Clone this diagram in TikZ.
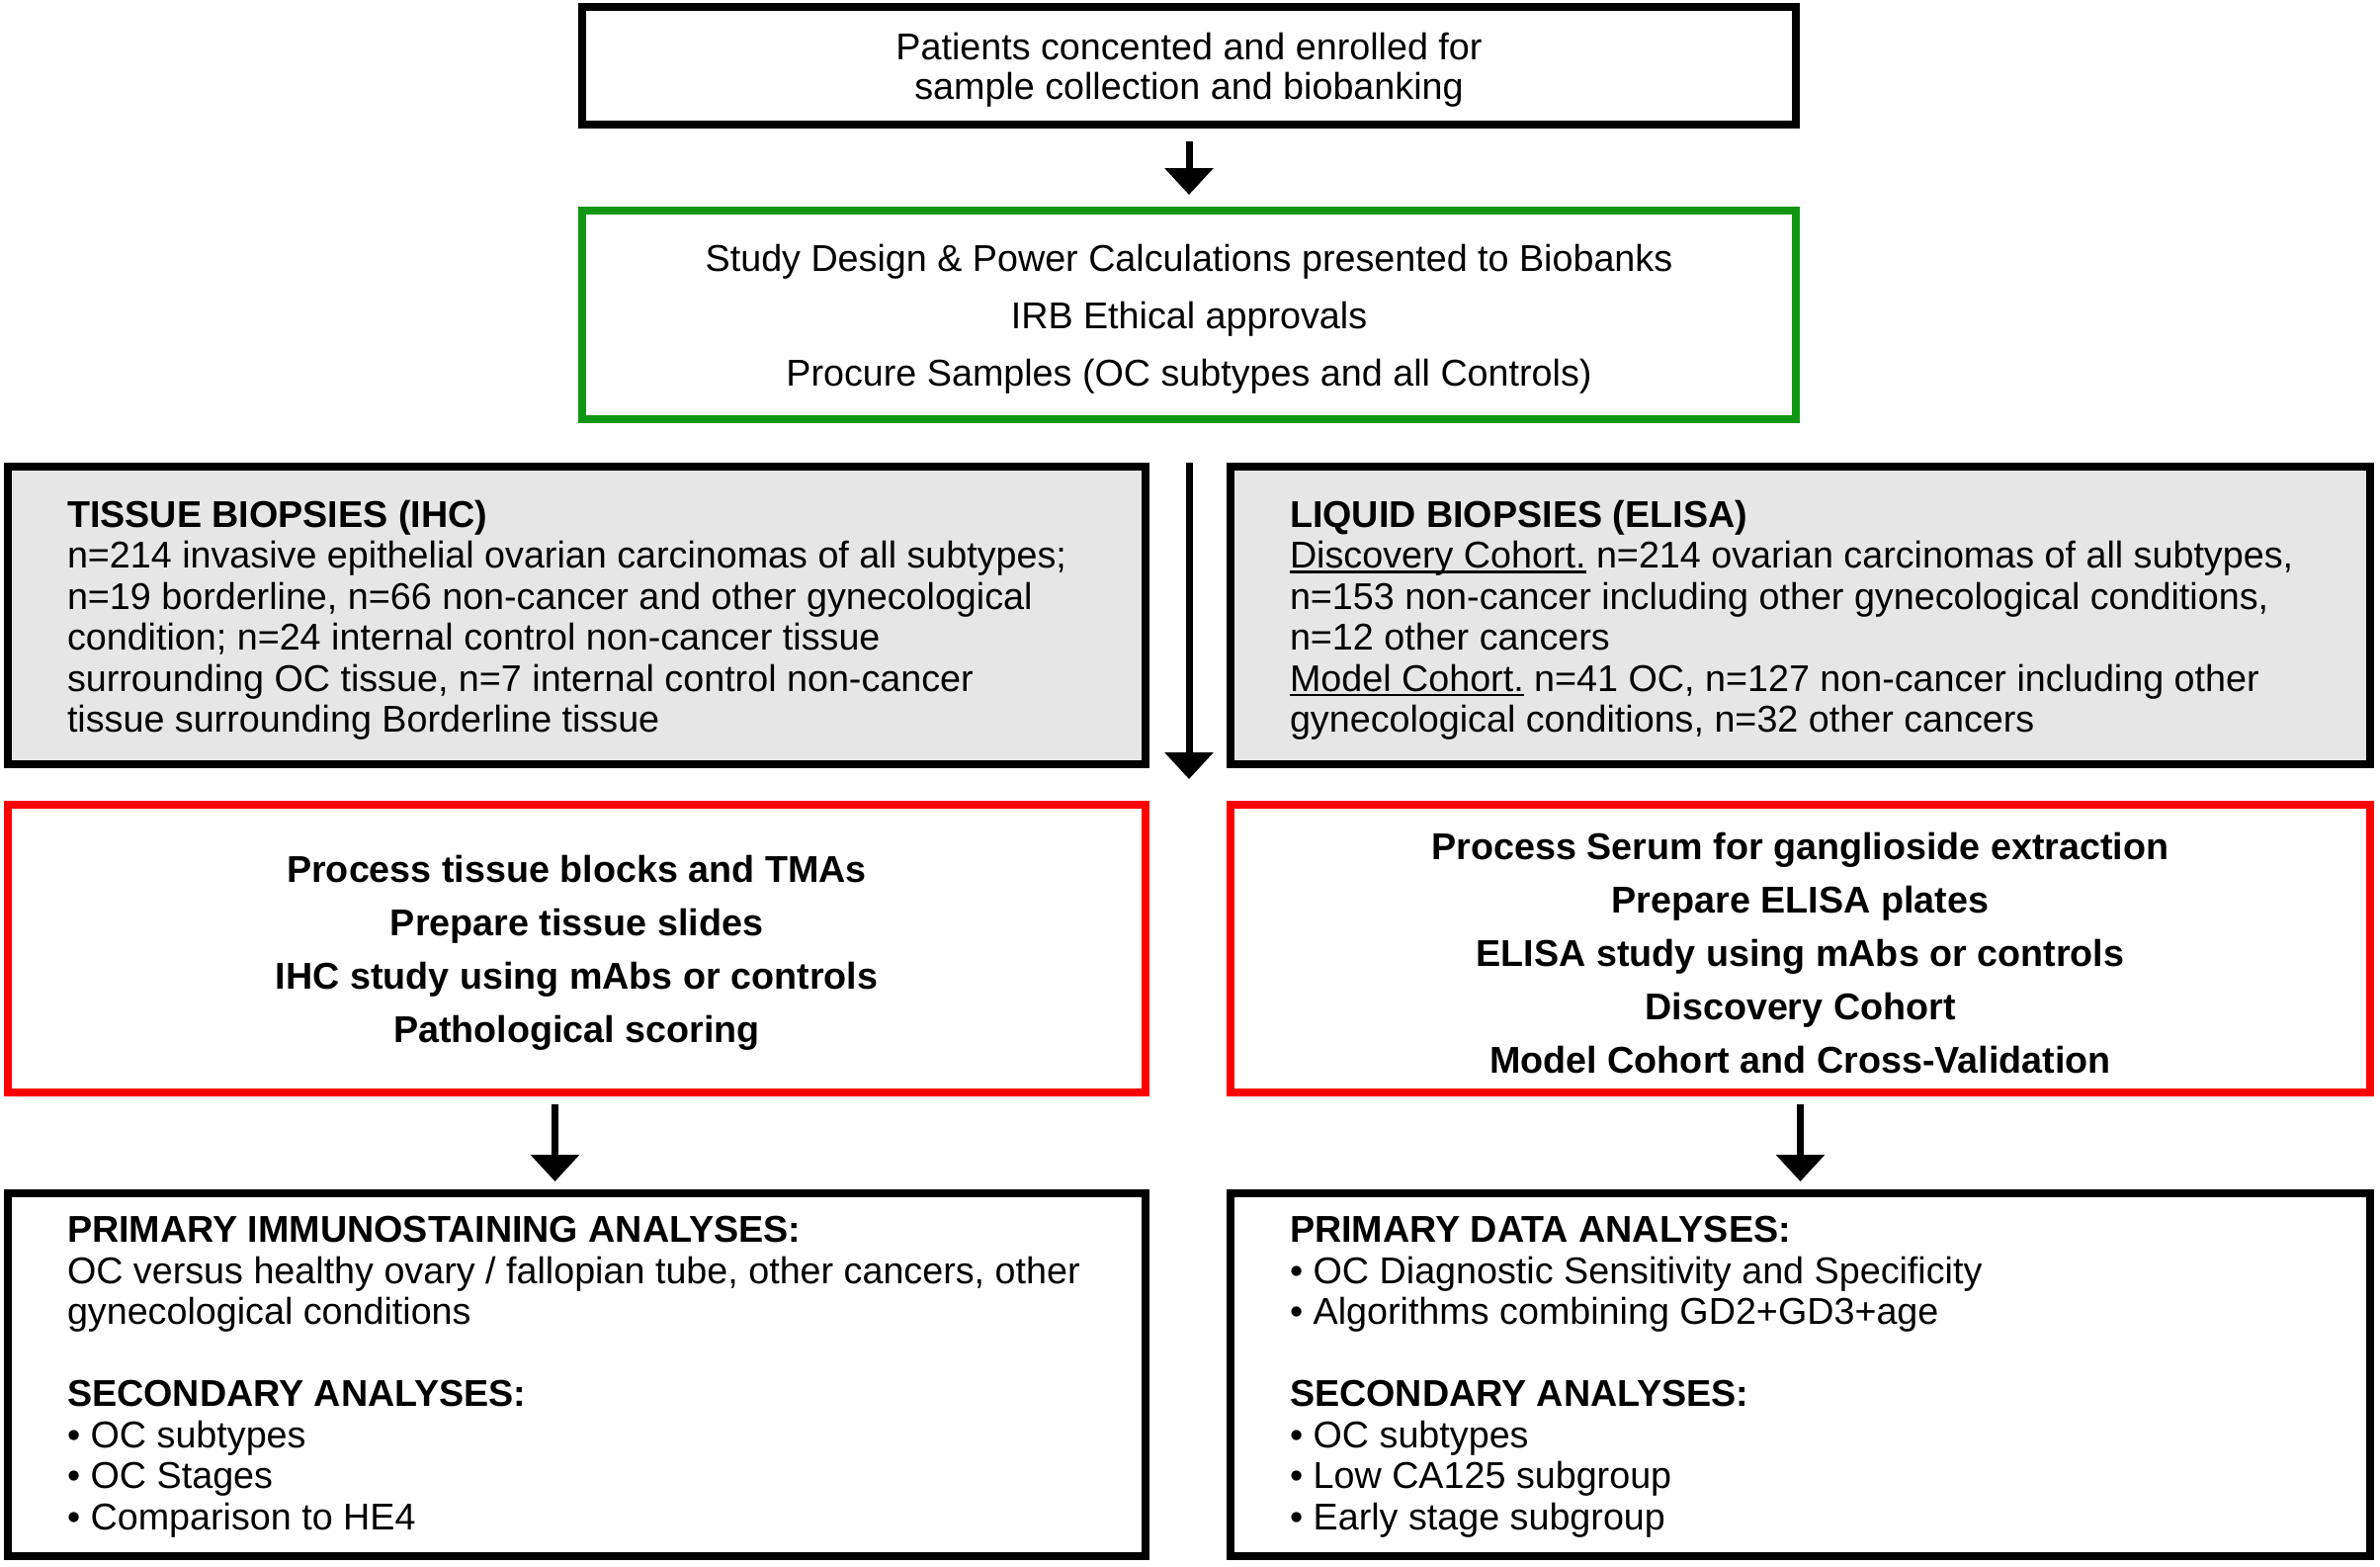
\documentclass[tikz,border=0pt]{standalone}
\usepackage{fontspec}
\setmainfont{Liberation Sans}
\usetikzlibrary{arrows.meta}
\definecolor{boxgreen}{RGB}{16,150,16}
\definecolor{boxred}{RGB}{255,0,0}
\definecolor{boxgray}{RGB}{230,230,230}
\newcommand\myul[1]{\setbox0\hbox{#1}\rlap{\rule[-5pt]{\wd0}{2.5pt}}\box0\relax}
\begin{document}
\begin{tikzpicture}[x=1pt,y=-1pt,
  box/.style={draw=black, line width=8pt, rectangle, outer sep=0pt, inner sep=0pt},
  greenbox/.style={box, draw=boxgreen},
  redbox/.style={box, draw=boxred},
  graybox/.style={box, fill=boxgray},
  body/.style={font=\fontsize{37.7pt}{41.5pt}\selectfont, align=left, inner sep=0pt, outer sep=0pt},
  ctext/.style={align=center, inner sep=0pt, outer sep=0pt},
  flow/.style={line width=7pt, -{Triangle[width=48pt,length=27pt]}}
]
\useasboundingbox (0,0) rectangle (2408,1584);

% top box
\node[box, minimum width=1228pt, minimum height=119pt] (top) at (1203,66.5) {};
\node[ctext, font=\fontsize{37.7pt}{40pt}\selectfont] (topT) at ([yshift=-4pt]top.center)
  {Patients concented and enrolled for\\sample collection and biobanking};

% green box
\node[greenbox, minimum width=1228pt, minimum height=211pt] (green) at (1203,318.5) {};
\node[ctext, font=\fontsize{37.7pt}{58pt}\selectfont] (greenT) at ([yshift=-4.5pt]green.center)
  {Study Design \& Power Calculations presented to Biobanks\\IRB Ethical approvals\\Procure Samples (OC subtypes and all Controls)};

% gray boxes
\node[graybox, minimum width=1151pt, minimum height=301pt] (tissue) at (583.5,622.5) {};
\node[body, anchor=west] (tissueT) at ([xshift=60pt,yshift=-4.5pt]tissue.west)
  {\textbf{TISSUE BIOPSIES (IHC)}\\
   n=214 invasive epithelial ovarian carcinomas of all subtypes;\\
   n=19 borderline, n=66 non-cancer and other gynecological\\
   condition; n=24 internal control non-cancer tissue\\
   surrounding OC tissue, n=7 internal control non-cancer\\
   tissue surrounding Borderline tissue};

\node[graybox, minimum width=1153pt, minimum height=301pt] (liquid) at (1821.5,622.5) {};
\node[body, anchor=west] (liquidT) at ([xshift=60pt,yshift=-4.5pt]liquid.west)
  {\textbf{LIQUID BIOPSIES (ELISA)}\\
   \myul{Discovery Cohort.} n=214 ovarian carcinomas of all subtypes,\\
   n=153 non-cancer including other gynecological conditions,\\
   n=12 other cancers\\
   \myul{Model Cohort.} n=41 OC, n=127 non-cancer including other\\
   gynecological conditions, n=32 other cancers};

% red boxes
\node[redbox, minimum width=1151pt, minimum height=291pt] (redL) at (583.5,959.5) {};
\node[ctext, font=\bfseries\fontsize{37.7pt}{54pt}\selectfont] (redLT) at ([yshift=-4.5pt]redL.center)
  {Process tissue blocks and TMAs\\Prepare tissue slides\\IHC study using mAbs or controls\\Pathological scoring};

\node[redbox, minimum width=1153pt, minimum height=291pt] (redR) at (1821.5,959.5) {};
\node[ctext, font=\bfseries\fontsize{37.7pt}{54pt}\selectfont] (redRT) at ([yshift=-4.5pt]redR.center)
  {Process Serum for ganglioside extraction\\Prepare ELISA plates\\ELISA study using mAbs or controls\\Discovery Cohort\\Model Cohort and Cross-Validation};

% bottom boxes
\node[box, minimum width=1151pt, minimum height=367pt] (botL) at (583.5,1390.5) {};
\node[body, anchor=west] (botLT) at ([xshift=60pt,yshift=-2pt]botL.west)
  {\textbf{PRIMARY IMMUNOSTAINING ANALYSES:}\\
   OC versus healthy ovary / fallopian tube, other cancers, other\\
   gynecological conditions\\[41.5pt]
   \textbf{SECONDARY ANALYSES:}\\
   • OC subtypes\\
   • OC Stages\\
   • Comparison to HE4};

\node[box, minimum width=1153pt, minimum height=367pt] (botR) at (1821.5,1390.5) {};
\node[body, anchor=west] (botRT) at ([xshift=60pt,yshift=-2pt]botR.west)
  {\textbf{PRIMARY DATA ANALYSES:}\\
   • OC Diagnostic Sensitivity and Specificity\\
   • Algorithms combining GD2+GD3+age\\[41.5pt]
   \textbf{SECONDARY ANALYSES:}\\
   • OC subtypes\\
   • Low CA125 subgroup\\
   • Early stage subgroup};

% connectors
\coordinate (ctip) at (1203,788);
\draw[flow, shorten <=17pt, shorten >=16pt] (top.south) -- (green.north);
\draw[flow, shorten <=44pt] (green.south) -- (ctip);
\draw[flow, shorten <=12pt, shorten >=12pt] ([xshift=-22pt]redL.south) -- ([xshift=-22pt]botL.north);
\draw[flow, shorten <=12pt, shorten >=12pt] (redR.south) -- (botR.north);
\end{tikzpicture}
\end{document}
